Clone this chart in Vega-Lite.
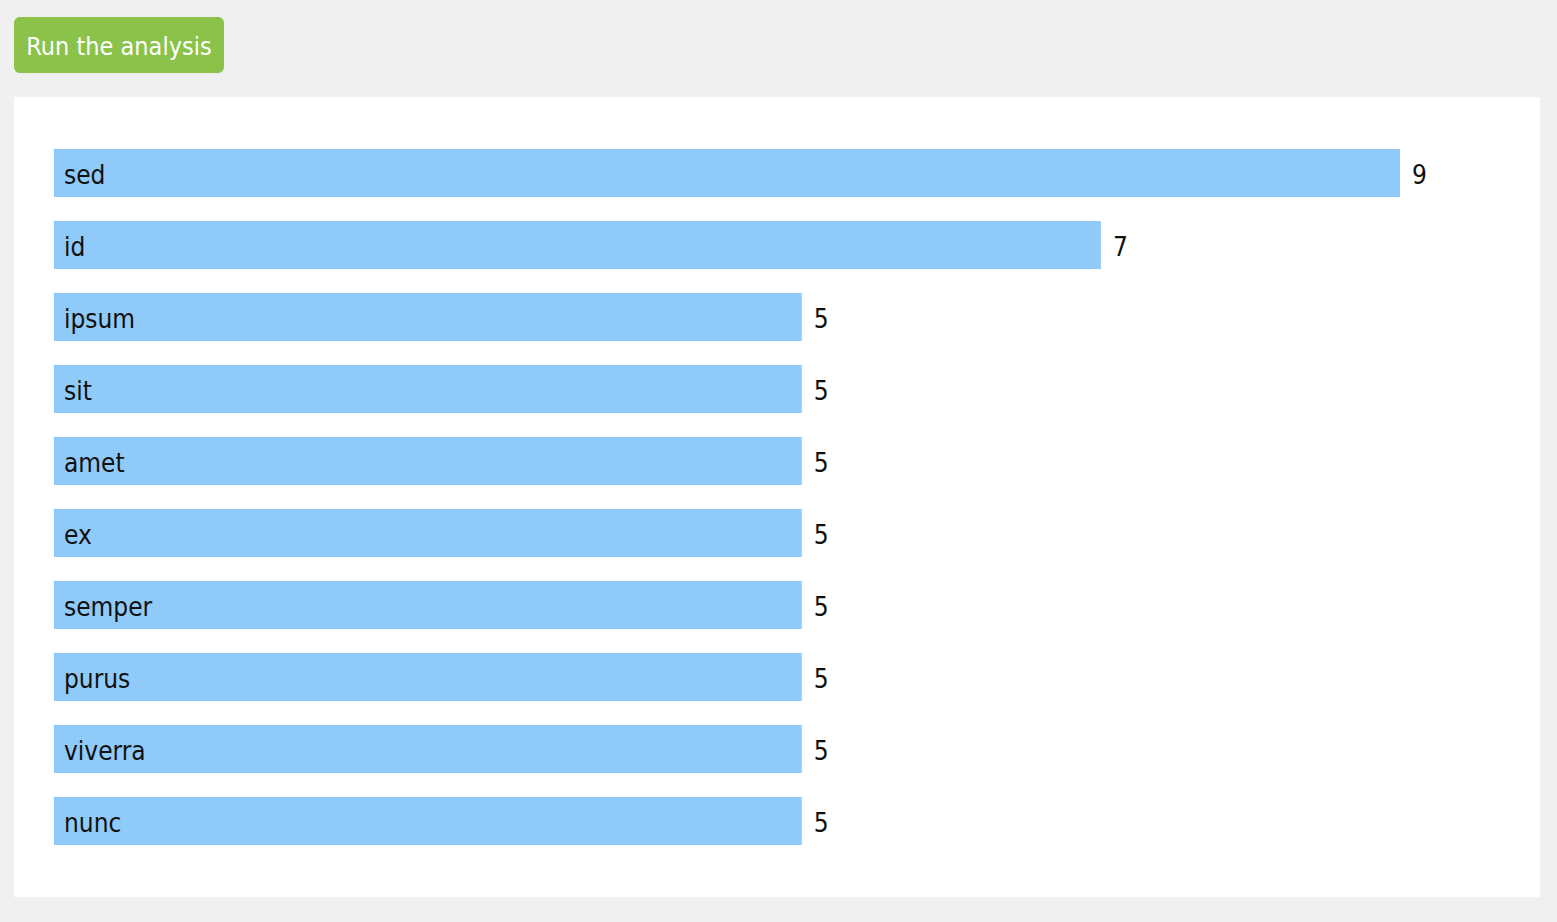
{
  "$schema": "https://vega.github.io/schema/vega-lite/v6.json",
  "background": "#f0f0f0",
  "padding": {"left": 14, "top": 17, "right": 17, "bottom": 25},
  "config": {
    "view": {"stroke": null},
    "font": "DejaVu Sans Condensed, Roboto Condensed, Roboto, sans-serif",
    "concat": {"spacing": 24}
  },
  "vconcat": [
    {
      "width": 210,
      "height": 56,
      "view": {"fill": "#8bc34a", "cornerRadius": 6, "stroke": null},
      "data": {"values": [{"label": "Run the analysis"}]},
      "mark": {"type": "text", "font": "DejaVu Sans Condensed, Roboto Condensed, Roboto, sans-serif", "fontSize": 25, "color": "#ffffff", "align": "center", "baseline": "middle", "dy": 2},
      "encoding": {"text": {"field": "label"}}
    },
    {
      "width": 1526,
      "height": 800,
      "view": {"fill": "#ffffff", "stroke": null},
      "data": {
        "values": [
          {"word": "sed", "count": 9},
          {"word": "id", "count": 7},
          {"word": "ipsum", "count": 5},
          {"word": "sit", "count": 5},
          {"word": "amet", "count": 5},
          {"word": "ex", "count": 5},
          {"word": "semper", "count": 5},
          {"word": "purus", "count": 5},
          {"word": "viverra", "count": 5},
          {"word": "nunc", "count": 5}
        ]
      },
      "encoding": {
        "y": {
          "field": "word",
          "type": "nominal",
          "sort": null,
          "axis": null,
          "scale": {"range": [40, 760], "paddingInner": 0.3333, "paddingOuter": 0.1667}
        }
      },
      "layer": [
        {
          "mark": {"type": "bar", "color": "#90caf9"},
          "encoding": {
            "x": {"field": "count", "type": "quantitative", "axis": null, "scale": {"domain": [0, 9], "range": [40, 1386]}}
          }
        },
        {
          "mark": {"type": "text", "align": "left", "baseline": "middle", "dx": 10, "dy": 3, "fontSize": 26, "color": "#111111", "font": "DejaVu Sans Condensed, Roboto Condensed, Roboto, sans-serif"},
          "encoding": {
            "x": {"datum": 0, "type": "quantitative"},
            "text": {"field": "word"}
          }
        },
        {
          "mark": {"type": "text", "align": "left", "baseline": "middle", "dx": 12, "dy": 3, "fontSize": 26, "color": "#111111", "font": "DejaVu Sans Condensed, Roboto Condensed, Roboto, sans-serif"},
          "encoding": {
            "x": {"field": "count", "type": "quantitative"},
            "text": {"field": "count"}
          }
        }
      ]
    }
  ]
}
